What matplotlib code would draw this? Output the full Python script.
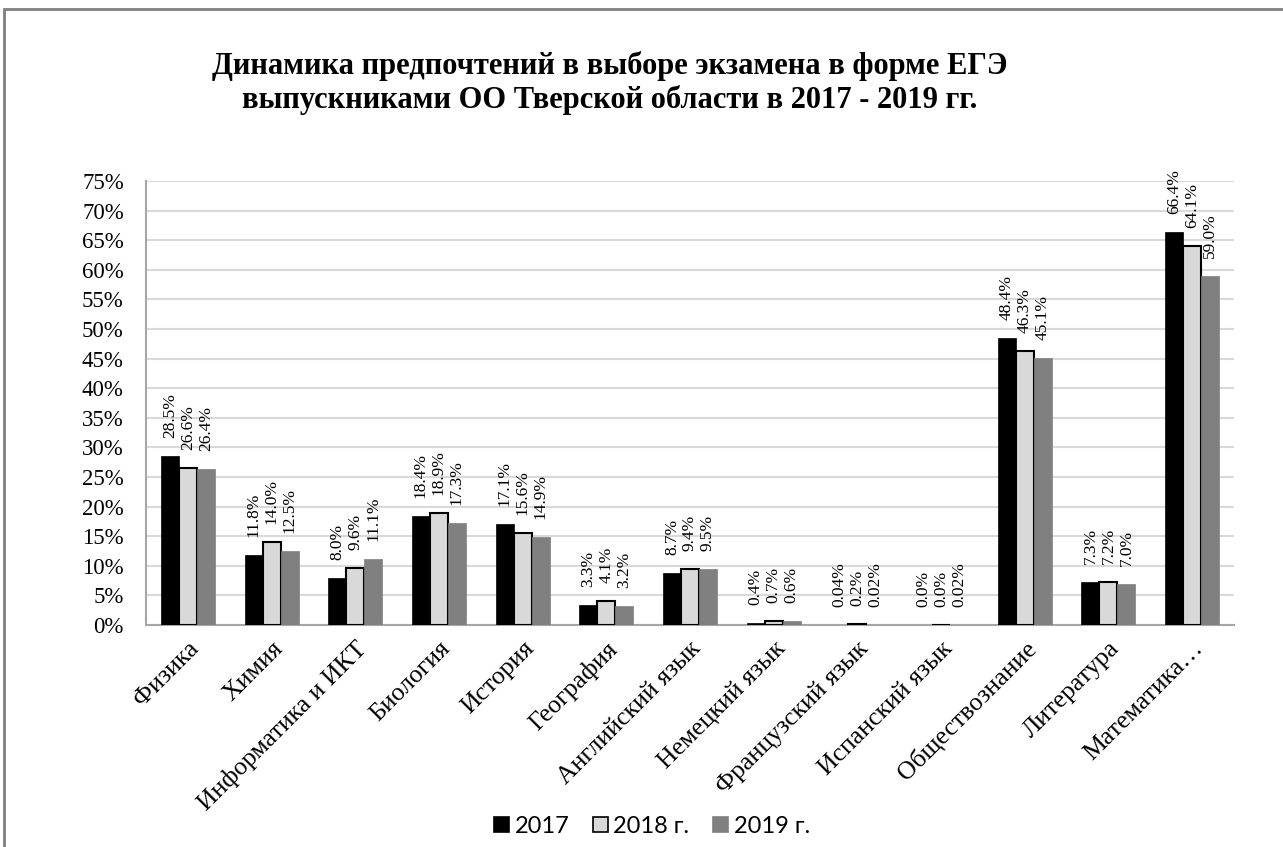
import matplotlib
matplotlib.use("Agg")
import matplotlib.pyplot as plt
import matplotlib.ticker as mticker
from matplotlib.patches import Rectangle, Patch
import numpy as np

# ── Data ──────────────────────────────────────────────────────────────────
subjects = ["Физика", "Химия", "Информатика и ИКТ", "Биология", "История",
            "География", "Английский язык", "Немецкий язык", "Французский язык",
            "Испанский язык", "Обществознание", "Литература", "Математика…"]
years = ["2017", "2018 г.", "2019 г."]
vals_2017 = [28.5, 11.8, 8.0, 18.4, 17.1, 3.3, 8.7, 0.4, 0.04, 0.0, 48.4, 7.3, 66.4]
vals_2018 = [26.6, 14.0, 9.6, 18.9, 15.6, 4.1, 9.4, 0.7, 0.2, 0.0, 46.3, 7.2, 64.1]
vals_2019 = [26.4, 12.5, 11.1, 17.3, 14.9, 3.2, 9.5, 0.6, 0.02, 0.02, 45.1, 7.0, 59.0]
labels_2017 = ["28.5%", "11.8%", "8.0%", "18.4%", "17.1%", "3.3%", "8.7%", "0.4%", "0.04%", "0.0%", "48.4%", "7.3%", "66.4%"]
labels_2018 = ["26.6%", "14.0%", "9.6%", "18.9%", "15.6%", "4.1%", "9.4%", "0.7%", "0.2%", "0.0%", "46.3%", "7.2%", "64.1%"]
labels_2019 = ["26.4%", "12.5%", "11.1%", "17.3%", "14.9%", "3.2%", "9.5%", "0.6%", "0.02%", "0.02%", "45.1%", "7.0%", "59.0%"]

title = ("Динамика предпочтений в выборе экзамена в форме ЕГЭ\n"
         "выпускниками ОО Тверской области в 2017 - 2019 гг.")

# ── Style ─────────────────────────────────────────────────────────────────
SERIF = "Liberation Serif"
SANS = "Lato"
FILLS = ["#000000", "#d9d9d9", "#808080"]
EDGES = ["#000000", "#000000", "#808080"]

fig = plt.figure(figsize=(12.83, 8.47), dpi=100)
fig.patches.append(Rectangle((4 / 1283, -0.1), 1.2, 1 - 9 / 847 + 0.1,
                             transform=fig.transFigure, fill=False,
                             edgecolor="#7f7f7f", linewidth=2))

ax = fig.add_axes([146 / 1283, 1 - 625 / 847, (1234 - 146) / 1283, (625 - 181) / 847])

x = np.arange(len(subjects))
w = 0.215
series = [(vals_2017, labels_2017), (vals_2018, labels_2018), (vals_2019, labels_2019)]
for i, (vals, labs) in enumerate(series):
    xs = x + (i - 1) * w
    ax.bar(xs, vals, width=w, color=FILLS[i], edgecolor=EDGES[i],
           linewidth=1.5 if i == 1 else 0.5, zorder=3, label=years[i])
    for xi, v, lab in zip(xs, vals, labs):
        ax.annotate(lab, (xi, v), xytext=(0, 18), textcoords="offset pixels",
                    rotation=90, ha="center", va="bottom",
                    fontsize=12.5, family=SERIF, zorder=4)

ax.set_xlim(-0.5, len(subjects) - 0.5)
ax.set_ylim(0, 75)
ax.yaxis.set_major_locator(mticker.MultipleLocator(5))
ax.yaxis.set_major_formatter(mticker.FuncFormatter(lambda v, _: f"{v:.0f}%"))
ax.grid(axis="y", color="#d9d9d9", linewidth=1.5, zorder=0)
ax.tick_params(axis="y", length=0, pad=16, labelsize=16.5)
ax.tick_params(axis="x", length=0, pad=9)
for lbl in ax.get_yticklabels():
    lbl.set_family(SERIF)

ax.set_xticks(x)
ax.set_xticklabels(subjects, rotation=45, ha="right", rotation_mode="anchor",
                   family=SERIF, fontsize=18.5)

for side in ["top", "right"]:
    ax.spines[side].set_visible(False)
for side in ["left", "bottom"]:
    ax.spines[side].set_color("#a6a6a6")
    ax.spines[side].set_linewidth(1.5)

fig.text(610 / 1283, 1 - 83 / 847, title, ha="center", va="center",
         family=SERIF, fontweight="bold", fontsize=22, linespacing=1.2)

handles = [Patch(facecolor=FILLS[i], edgecolor=EDGES[i], linewidth=1.2) for i in range(3)]
fig.legend(handles, years, loc="center", bbox_to_anchor=(652 / 1283, 1 - 826 / 847),
           ncol=3, frameon=False, prop={"family": SANS, "size": 17},
           handlelength=0.62, handleheight=0.62, handletextpad=0.25, columnspacing=1.0,
           borderpad=0)

fig.savefig("out.png", dpi=100, facecolor="white")
